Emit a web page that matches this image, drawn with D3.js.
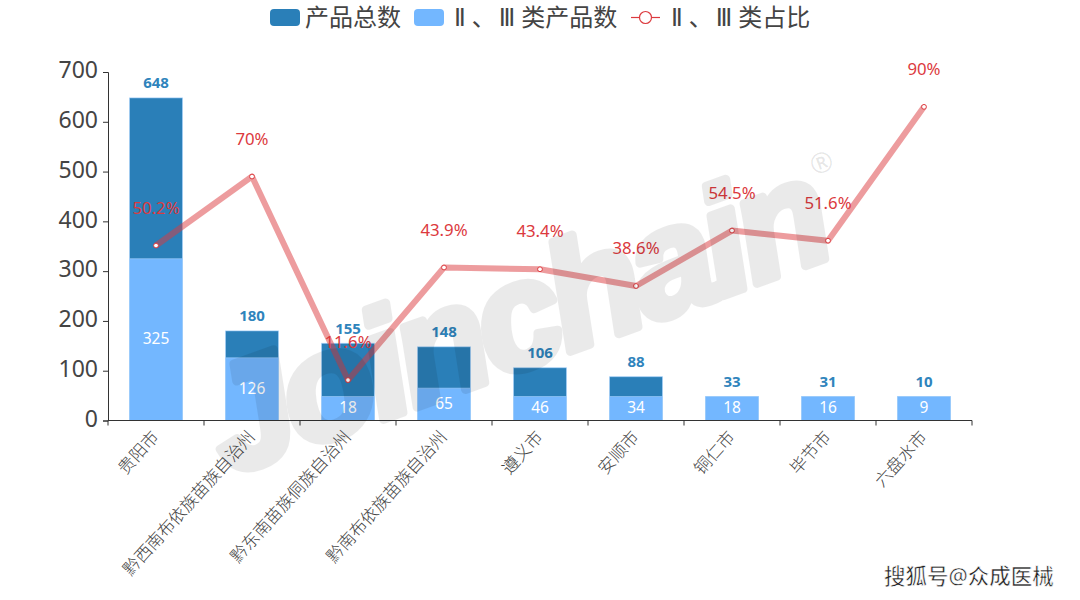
<!DOCTYPE html>
<html><head><meta charset="utf-8">
<script src="https://cdn.jsdelivr.net/npm/d3@7/dist/d3.min.js"></script>
<style>html,body{margin:0;padding:0;background:#fff}svg{display:block}text{font-family:"Noto Sans","Noto Sans CJK SC",sans-serif}</style>
</head><body><svg id="c" width="1080" height="600"></svg>
<script>
const categories=["贵阳市","黔西南布依族苗族自治州","黔东南苗族侗族自治州","黔南布依族苗族自治州","遵义市","安顺市","铜仁市","毕节市","六盘水市"];
const totalProducts=[648,180,155,148,106,88,33,31,10];
const classProducts=[325,126,18,65,46,34,18,16,9];
const classShare=[50.2,70,11.6,43.9,43.4,38.6,54.5,51.6,90];
const yTicks=[0,100,200,300,400,500,600,700];
const legendNames=["产品总数","Ⅱ、Ⅲ类产品数","Ⅱ、Ⅲ类占比"];
const DARK="#2a7fb8",LIGHT="#73b7ff",RED="#dc3a3e",AXIS="#444";
const CJK='"Noto Sans CJK SC",sans-serif';
const LEG='"DejaVu Sans","Noto Sans CJK SC",sans-serif';
const svg=d3.select("#c");
const x=d3.scaleBand().domain(categories).range([108,972]);
const y=d3.scaleLinear().domain([0,700]).range([420.5,72]);
const yr=d3.scaleLinear().domain([0,100]).range([420.5,72]);
const barW=53,minH=24;
const barTop=v=>Math.min(y(v),y(0)-minH);
const cx=c=>x(c)+x.bandwidth()/2;

function bars(vals,color){
 svg.append("g").selectAll("rect").data(categories).join("rect")
  .attr("x",c=>cx(c)-barW/2).attr("width",barW)
  .attr("y",(c,i)=>barTop(vals[i])).attr("height",(c,i)=>y(0)-barTop(vals[i]))
  .attr("fill",color).attr("stroke","#a9d3ff").attr("stroke-opacity",.55).attr("stroke-width",1);
}
bars(totalProducts,DARK);
bars(classProducts,LIGHT);

const yAxis=d3.axisLeft(y).tickValues(yTicks).tickSize(5).tickPadding(5);
const gy=svg.append("g").attr("transform","translate(108,0)").call(yAxis);
gy.selectAll("text").attr("font-size",23).attr("fill",AXIS).attr("dy","0.25em");
gy.selectAll("line,path").attr("stroke","#333").attr("stroke-width",1);

const xAxis=d3.axisBottom(x).tickSize(0).tickSizeOuter(0).tickPadding(9);
const gx=svg.append("g").attr("transform","translate(0,420.5)").call(xAxis);
gx.select("path").attr("stroke","#333").attr("d","M108,0H972");
gx.selectAll("text").attr("font-size",17).attr("font-weight",300).attr("font-family",CJK).attr("fill",AXIS).attr("text-anchor","end").attr("dy",0)
  .attr("transform","translate(4,17) rotate(-48)").attr("x",0).attr("y",0);
gx.selectAll("line").remove();
svg.append("g").selectAll("line").data(d3.range(10)).join("line")
 .attr("x1",i=>108+i*x.step()).attr("x2",i=>108+i*x.step()).attr("y1",420.5).attr("y2",425.5).attr("stroke","#333");

const line=d3.line().x((d,i)=>cx(categories[i])).y(d=>yr(d));
svg.append("path").datum(classShare).attr("d",line).attr("fill","none").attr("stroke",RED).attr("stroke-opacity",.5).attr("stroke-width",6).attr("stroke-linejoin","round");
svg.append("g").selectAll("circle").data(classShare).join("circle")
 .attr("cx",(d,i)=>cx(categories[i])).attr("cy",d=>yr(d)).attr("r",2.4).attr("fill","#fff").attr("stroke",RED).attr("stroke-width",1);

svg.append("g").selectAll("text").data(totalProducts).join("text")
 .attr("x",(d,i)=>cx(categories[i])).attr("y",d=>barTop(d)-9.5).attr("text-anchor","middle")
 .attr("font-size",15).attr("font-weight",700).attr("fill","#2f84bc").text(d=>d);
svg.append("g").selectAll("text").data(classProducts).join("text")
 .attr("x",(d,i)=>cx(categories[i])).attr("y",d=>(barTop(d)+y(0))/2+4.5).attr("text-anchor","middle")
 .attr("font-size",15.5).attr("fill","#fff").text(d=>d);
svg.append("g").selectAll("text").data(classShare).join("text")
 .attr("x",(d,i)=>cx(categories[i])).attr("y",d=>yr(d)-32).attr("text-anchor","middle")
 .attr("font-size",16.8).attr("fill",RED).text(d=>d+"%");

// legend: roman numerals get extra tracking to occupy a full-width cell
function legendText(px,str){
 const t=lg.append("text").attr("x",px).attr("y",26).style("font-family",LEG);
 for(const ch of str){
  const s=t.append("tspan").text(ch);
  if(ch==="Ⅱ"||ch==="Ⅲ") s.attr("letter-spacing",6).attr("dx",3);
 }
}
const lg=svg.append("g").attr("font-size",24).attr("fill",AXIS);
lg.append("rect").attr("x",270).attr("y",9).attr("width",30).attr("height",17).attr("rx",4).attr("fill",DARK);
legendText(305,legendNames[0]);
lg.append("rect").attr("x",414).attr("y",9).attr("width",30).attr("height",17).attr("rx",4).attr("fill",LIGHT);
legendText(451,legendNames[1]);
lg.append("line").attr("x1",631).attr("x2",660).attr("y1",17.5).attr("y2",17.5).attr("stroke",RED).attr("stroke-width",1.2);
lg.append("circle").attr("cx",645.5).attr("cy",17.5).attr("r",6).attr("fill","#fff").attr("stroke",RED).attr("stroke-width",1.2);
legendText(668,legendNames[2]);

// watermark
const wm=svg.append("g").attr("transform","translate(228,476) rotate(-20)").attr("opacity",.08);
wm.append("text").style("font-family","Liberation Sans").attr("font-size",150).attr("letter-spacing",-6).attr("font-weight",700).attr("font-style","italic")
 .attr("fill","#000").attr("stroke","#000").attr("stroke-width",9).attr("stroke-linejoin","round").text("Joinchain");
svg.append("text").attr("text-anchor","middle").attr("transform","translate(825,172) rotate(-20)").attr("font-size",28).attr("fill","#000").attr("fill-opacity",.1).text("®");

// footer credit
svg.append("text").attr("x",884).attr("y",584).attr("font-size",21.5).attr("fill","#222").attr("stroke","#fff").attr("stroke-width",.6).attr("font-weight",500).text("搜狐号@众成医械");
</script></body></html>
